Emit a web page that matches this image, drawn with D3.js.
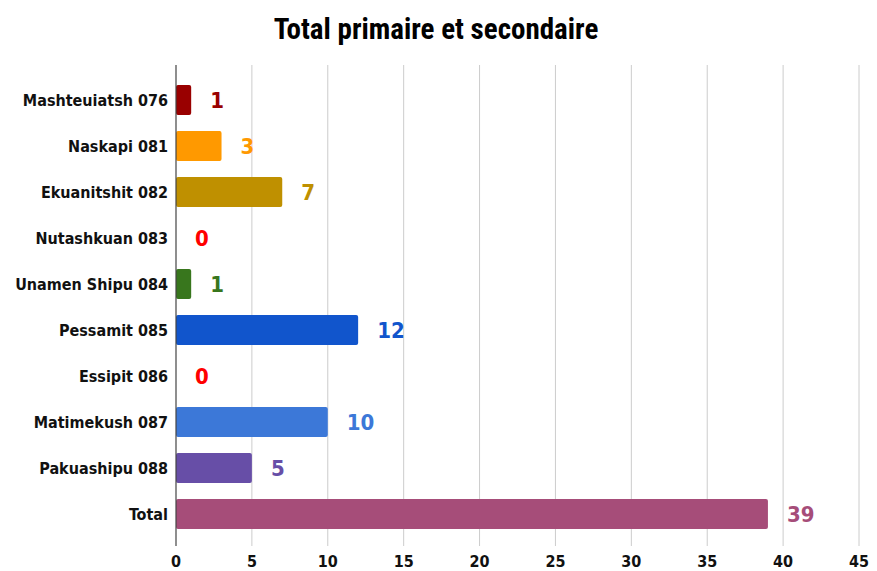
<!DOCTYPE html>
<html>
<head>
<meta charset="utf-8">
<script src="https://cdn.jsdelivr.net/npm/d3@7"></script>
<style>
  body { margin: 0; background: #fff; }
  svg { display: block; }
</style>
</head>
<body>
<svg width="877" height="571"></svg>
<script>
const categories = [
    "Mashteuiatsh 076", "Naskapi 081", "Ekuanitshit 082", "Nutashkuan 083",
    "Unamen Shipu 084", "Pessamit 085", "Essipit 086", "Matimekush 087",
    "Pakuashipu 088", "Total"
];
const values = [1, 3, 7, 0, 1, 12, 0, 10, 5, 39];
const barColors = [
    "#990000", "#ff9900", "#bf9000", "#ff0000", "#38761d",
    "#1155cc", "#ff0000", "#3c78d8", "#674ea7", "#a64d79"
];
const xTicks = [0, 5, 10, 15, 20, 25, 30, 35, 40, 45];

const svg = d3.select("svg");

const x = d3.scaleLinear().domain([0, 45]).range([176, 859]);
const y = d3.scaleBand().domain(categories).range([77, 537]).paddingInner(0.35).paddingOuter(0.175);

// title
svg.append("text")
    .attr("x", 436)
    .attr("y", 39)
    .attr("text-anchor", "middle")
    .attr("font-family", "'Liberation Sans Narrow', 'Roboto Condensed', 'DejaVu Sans Condensed', sans-serif")
    .attr("font-weight", "bold")
    .attr("font-size", "29px")
    .attr("fill", "#000")
    .text("Total primaire et secondaire");

// gridlines
svg.selectAll(".grid")
    .data(xTicks.slice(1))
    .enter().append("line")
    .attr("class", "grid")
    .attr("x1", d => x(d))
    .attr("x2", d => x(d))
    .attr("y1", 65)
    .attr("y2", 546)
    .attr("stroke", "#cccccc")
    .attr("stroke-width", 1);

// bars
svg.selectAll(".bar")
    .data(values)
    .enter().append("rect")
    .attr("class", "bar")
    .attr("x", x(0))
    .attr("y", (d, i) => y(categories[i]))
    .attr("width", d => x(d) - x(0))
    .attr("height", y.bandwidth())
    .attr("rx", d => d > 0 ? 2 : 0)
    .attr("fill", (d, i) => barColors[i]);

// baseline
svg.append("line")
    .attr("x1", x(0))
    .attr("x2", x(0))
    .attr("y1", 65)
    .attr("y2", 546)
    .attr("stroke", "#444")
    .attr("stroke-width", 1.2);

// value labels
svg.selectAll(".value")
    .data(values)
    .enter().append("text")
    .attr("class", "value")
    .attr("x", d => x(d) + 19)
    .attr("y", (d, i) => y(categories[i]) + y.bandwidth() / 2)
    .attr("dy", "0.36em")
    .attr("font-family", "'DejaVu Sans Condensed', 'DejaVu Sans', sans-serif")
    .attr("font-weight", "bold")
    .attr("font-size", "22px")
    .attr("fill", (d, i) => barColors[i])
    .text(d => d);

// category labels
svg.selectAll(".label")
    .data(categories)
    .enter().append("text")
    .attr("class", "label")
    .attr("x", 168)
    .attr("y", d => y(d) + y.bandwidth() / 2)
    .attr("dy", "0.36em")
    .attr("text-anchor", "end")
    .attr("font-family", "'DejaVu Sans Condensed', 'DejaVu Sans', sans-serif")
    .attr("font-weight", "bold")
    .attr("font-size", "16px")
    .attr("fill", "#111")
    .text(d => d);

// x axis tick labels
svg.selectAll(".tick-label")
    .data(xTicks)
    .enter().append("text")
    .attr("class", "tick-label")
    .attr("x", d => x(d))
    .attr("y", 567)
    .attr("text-anchor", "middle")
    .attr("font-family", "'Liberation Sans Narrow', 'DejaVu Sans Condensed', sans-serif")
    .attr("font-weight", "bold")
    .attr("font-size", "16px")
    .attr("fill", "#111")
    .text(d => d);
</script>
</body>
</html>
